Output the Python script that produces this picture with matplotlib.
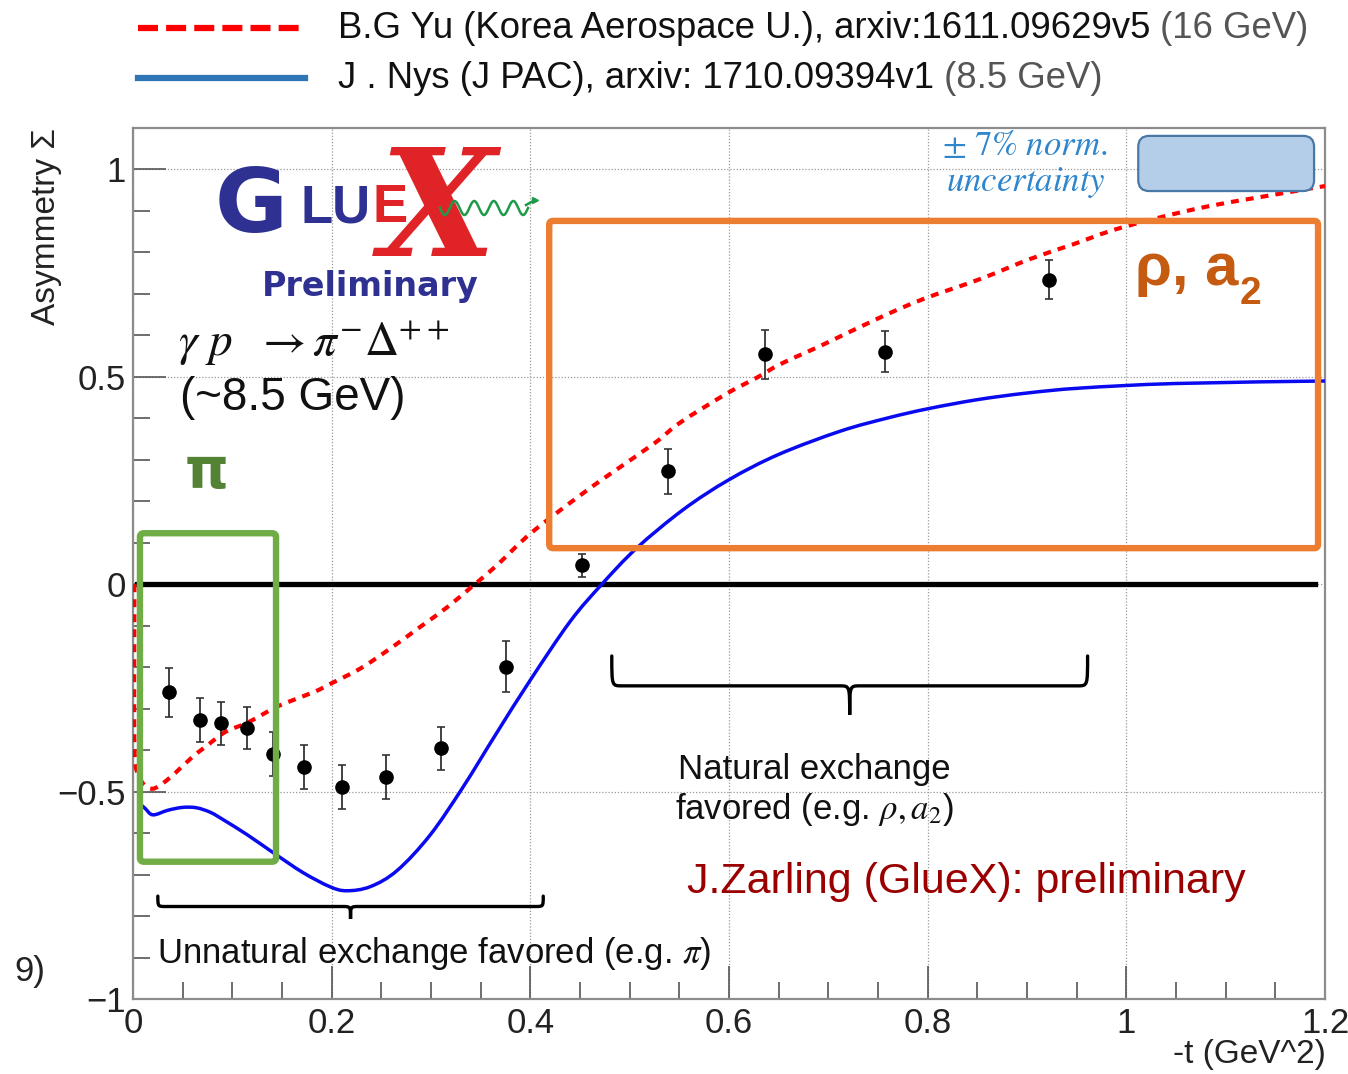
import numpy as np
import matplotlib
matplotlib.use("Agg")
import matplotlib.pyplot as plt
from matplotlib.lines import Line2D
from matplotlib.patches import FancyBboxPatch, PathPatch
from matplotlib.path import Path
from matplotlib.ticker import MultipleLocator, FuncFormatter

W, H = 1348, 1074

# GlueX preliminary beam asymmetry, gamma p -> pi- Delta++
t_data = [0.036, 0.067, 0.089, 0.115, 0.141, 0.172, 0.210, 0.255, 0.310, 0.376,
          0.452, 0.539, 0.636, 0.757, 0.922]
sigma = [-0.261, -0.327, -0.335, -0.347, -0.409, -0.441, -0.489, -0.465, -0.396, -0.199,
         0.046, 0.272, 0.554, 0.561, 0.734]
sigma_err = [0.058, 0.053, 0.052, 0.051, 0.053, 0.053, 0.053, 0.053, 0.052, 0.061,
             0.028, 0.054, 0.058, 0.050, 0.047]

# B.G Yu model (16 GeV)
t_yu = [0.0015, 0.0015, 0.006, 0.012, 0.020, 0.030, 0.043, 0.060, 0.073, 0.093,
        0.115, 0.141, 0.155, 0.183, 0.198, 0.229, 0.259, 0.289, 0.316, 0.343,
        0.366, 0.400, 0.446, 0.481, 0.525, 0.551, 0.598, 0.628, 0.652, 0.695,
        0.752, 0.796, 0.853, 0.903, 0.947, 0.994, 1.074, 1.158, 1.200]
s_yu = [0.000, -0.390, -0.460, -0.485, -0.493, -0.480, -0.454, -0.416, -0.392, -0.356,
        -0.334, -0.300, -0.285, -0.259, -0.241, -0.203, -0.155, -0.103, -0.056, -0.002,
        0.045, 0.122, 0.207, 0.267, 0.340, 0.390, 0.460, 0.498, 0.531, 0.578,
        0.643, 0.688, 0.736, 0.784, 0.820, 0.859, 0.907, 0.943, 0.960]

# J. Nys (JPAC) model (8.5 GeV)
t_nys = [0.005, 0.012, 0.020, 0.035, 0.050, 0.064, 0.078, 0.091, 0.115, 0.141,
         0.171, 0.198, 0.215, 0.239, 0.266, 0.299, 0.332, 0.366, 0.400, 0.440,
         0.472, 0.507, 0.554, 0.600, 0.650, 0.712, 0.760, 0.800, 0.850, 0.900,
         0.954, 1.050, 1.200]
s_nys = [-0.525, -0.540, -0.556, -0.545, -0.538, -0.539, -0.550, -0.568, -0.604, -0.647,
         -0.695, -0.729, -0.739, -0.729, -0.690, -0.605, -0.490, -0.359, -0.231, -0.090,
         0.000, 0.087, 0.180, 0.252, 0.313, 0.369, 0.401, 0.423, 0.445, 0.461,
         0.473, 0.484, 0.490]

legend_labels = ["B.G Yu (Korea Aerospace U.), arxiv:1611.09629v5",
                 "J . Nys (J PAC), arxiv: 1710.09394v1"]
legend_energies = [" (16 GeV)", " (8.5 GeV)"]

SANS = ["Liberation Sans", "DejaVu Sans"]
plt.rcParams["font.family"] = SANS
plt.rcParams["mathtext.fontset"] = "stix"


def fx(x):
    return x / W


def fy(y):
    return 1 - y / H


def smooth_path(xs, ys):
    """Catmull-Rom curve through the given points, as cubic Bezier segments."""
    p = np.column_stack([xs, ys])
    q = np.vstack([p[0], p, p[-1]])
    verts = [p[0]]
    codes = [Path.MOVETO]
    for i in range(1, len(q) - 2):
        c1 = q[i] + (q[i + 1] - q[i - 1]) / 6
        c2 = q[i + 1] - (q[i + 2] - q[i]) / 6
        verts += [c1, c2, q[i + 1]]
        codes += [Path.CURVE4] * 3
    return Path(verts, codes)


def brace(ax, x0, x1, y, h, tip, dx):
    """Horizontal curly brace opening upwards, tip pointing down."""
    xm = 0.5 * (x0 + x1)
    verts = [(x0, y + h), (x0, y), (x0, y), (x0 + dx, y),
             (xm - dx, y),
             (xm, y), (xm, y), (xm, y - tip),
             (xm, y), (xm, y), (xm + dx, y),
             (x1 - dx, y),
             (x1, y), (x1, y), (x1, y + h)]
    codes = [Path.MOVETO, Path.CURVE4, Path.CURVE4, Path.CURVE4,
             Path.LINETO,
             Path.CURVE4, Path.CURVE4, Path.CURVE4,
             Path.CURVE4, Path.CURVE4, Path.CURVE4,
             Path.LINETO,
             Path.CURVE4, Path.CURVE4, Path.CURVE4]
    ax.add_patch(PathPatch(Path(verts, codes), fill=False, lw=2.4,
                           ec="black", capstyle="round", zorder=6))


def root_fmt(v, pos):
    s = "%g" % round(v, 3)
    return s.replace("-", "\u2212")


fig = plt.figure(figsize=(W / 100, H / 100), dpi=100)
ax = fig.add_axes([fx(133), 1 - 999 / H, (1325 - 133) / W, (999 - 128) / H])
ax.set_xlim(0, 1.2)
ax.set_ylim(-1, 1.1)

# ROOT-like frame and ticks
for sp in ["left", "bottom", "right", "top"]:
    ax.spines[sp].set_color("#8c8c8c")
    ax.spines[sp].set_linewidth(1.6)
ax.xaxis.set_major_locator(MultipleLocator(0.2))
ax.xaxis.set_minor_locator(MultipleLocator(0.05))
ax.yaxis.set_major_locator(MultipleLocator(0.5))
ax.yaxis.set_minor_locator(MultipleLocator(0.1))
ax.xaxis.set_major_formatter(FuncFormatter(root_fmt))
ax.yaxis.set_major_formatter(FuncFormatter(root_fmt))
ax.tick_params(which="both", direction="in", color="#555555", width=1.2,
               top=False, right=False)
ax.tick_params(which="major", length=24)
ax.tick_params(which="minor", length=12)
ax.tick_params(axis="both", labelsize=25, labelcolor="#222222")
ax.tick_params(axis="y", pad=5)
ax.tick_params(axis="x", pad=6)
ax.grid(True, which="major", color="#9a9a9a", linestyle=(0, (1, 1.5)), linewidth=0.9)
ax.set_axisbelow(True)

ax.plot([0.004, 1.19], [0, 0], color="black", lw=3.8, zorder=2)

ax.add_patch(PathPatch(smooth_path(t_yu, s_yu), fill=False, ec="#ff0000", lw=3.0,
                       linestyle=(0, (1.9, 1.7)), zorder=3))
ax.add_patch(PathPatch(smooth_path(t_nys, s_nys), fill=False, ec="#0a0af0", lw=2.5,
                       zorder=3))
ax.errorbar(t_data, sigma, yerr=sigma_err, fmt="o", color="black", ms=9.5,
            ecolor="#333333", elinewidth=1.3, capsize=3, capthick=1.2, zorder=4)

# highlight boxes
ax.add_patch(FancyBboxPatch((0.007, -0.669), 0.137, 0.792,
                            boxstyle="round,pad=0,rounding_size=0.004",
                            mutation_aspect=2.39, fill=False, ec="#70ad47",
                            lw=4.6, zorder=7))
ax.add_patch(FancyBboxPatch((0.419, 0.087), 0.774, 0.789,
                            boxstyle="round,pad=0,rounding_size=0.004",
                            mutation_aspect=2.39, fill=False, ec="#ed7d31",
                            lw=4.6, zorder=7))
ax.add_patch(FancyBboxPatch((1.012, 0.948), 0.177, 0.133,
                            boxstyle="round,pad=0,rounding_size=0.011",
                            mutation_aspect=2.39, fc="#b4cde8", ec="#4a78a6",
                            lw=1.6, zorder=7))

brace(ax, 0.025, 0.413, -0.777, 0.025, 0.03, 0.008)
brace(ax, 0.482, 0.961, -0.245, 0.072, 0.07, 0.01)

# axis titles
fig.text(fx(47), fy(128), "Asymmetry Σ", rotation=90, ha="center", va="top",
         fontsize=24, color="#222222")
fig.text(fx(1326), fy(1070), "-t (GeV^2)", ha="right", va="bottom",
         fontsize=24, color="#222222")
fig.text(fx(14), fy(971), "9)", ha="left", va="center", fontsize=25,
         color="#222222")

# legend above the frame
for i, (lbl, en) in enumerate(zip(legend_labels, legend_energies)):
    yy = 28 + 50 * i
    if i == 0:
        fig.add_artist(Line2D([fx(138), fx(305)], [fy(yy), fy(yy)], color="#ff0000",
                              lw=4.5, dashes=(3.2, 1.3)))
    else:
        fig.add_artist(Line2D([fx(138), fx(305)], [fy(yy), fy(yy)], color="#2e75b6",
                              lw=4.5))
    t1 = fig.text(fx(338), fy(yy), lbl, ha="left", va="center", fontsize=26.3,
                  color="#111111")
    ax.annotate(en, xy=(1, 0), xycoords=t1, ha="left", va="bottom", fontsize=26.3,
                color="#555555", annotation_clip=False)

# GlueX logo
fig.text(fx(438), fy(214), "X", ha="center", va="center", fontsize=108,
         family="DejaVu Serif", style="italic", weight="bold", color="#e02327",
         zorder=3)
fig.text(fx(251), fy(232), "G", ha="center", va="baseline", fontsize=64,
         family="DejaVu Sans", weight="bold", color="#2e3192", zorder=4)
fig.text(fx(301), fy(222), "LU", ha="left", va="baseline", fontsize=38,
         weight="bold", color="#2e3192", zorder=4)
fig.text(fx(373), fy(222), "E", ha="left", va="baseline", fontsize=38,
         weight="bold", color="#e02327", zorder=4)
wx = np.linspace(440, 528, 200)
wy = 208 + 7 * np.sin((wx - 440) / 88 * 4.5 * 2 * np.pi)
fig.add_artist(Line2D(fx(wx), fy(wy), color="#1e9a4a", lw=1.8, zorder=4))
fig.add_artist(Line2D([fx(526), fx(535)], [fy(205), fy(200)], color="#1e9a4a",
                      lw=1.8, marker=">", markevery=[1], ms=5, zorder=4))
fig.text(fx(370), fy(296), "Preliminary", ha="center", va="baseline", fontsize=24,
         family="DejaVu Sans", weight="bold", color="#2e3192")

# reaction and labels
fig.text(fx(178), fy(356), r"$\gamma\ p\ \ \rightarrow\pi^{-}\Delta^{++}$", ha="left",
         va="baseline", fontsize=34, color="#111111")
fig.text(fx(180), fy(398), "(~8.5 GeV)", ha="left", va="center", fontsize=33,
         color="#111111")
fig.text(fx(185), fy(488), "π", ha="left", va="baseline", fontsize=40,
         family="DejaVu Sans", weight="bold", color="#548235", zorder=8)
rho = fig.text(fx(1135), fy(285), "ρ, a", ha="left", va="baseline", fontsize=43,
               weight="bold", color="#c55a11", zorder=8)
ax.annotate("2", xy=(1, 0), xycoords=rho, xytext=(1, -11), textcoords="offset points",
            ha="left", va="bottom", fontsize=28, weight="bold",
            color="#c55a11", annotation_clip=False)

fig.text(fx(1025), fy(146), r"$\pm\ 7\%\ norm.$", ha="center", va="center",
         fontsize=25, color="#2f86cc")
fig.text(fx(1026), fy(183), r"$uncertainty$", ha="center", va="center",
         fontsize=25, color="#2f86cc")

fig.text(fx(814), fy(770), "Natural exchange", ha="center", va="center",
         fontsize=25, color="#111111")
fig.text(fx(814), fy(810), r"favored (e.g. $\rho, a_2$)", ha="center", va="center",
         fontsize=25, color="#111111")
fig.text(fx(157), fy(953), r"Unnatural exchange favored (e.g. $\pi$)", ha="left",
         va="center", fontsize=25, color="#111111")
fig.text(fx(966), fy(882), "J.Zarling (GlueX): preliminary", ha="center", va="center",
         fontsize=31, color="#9b0000")

fig.savefig("out.png", dpi=100)
